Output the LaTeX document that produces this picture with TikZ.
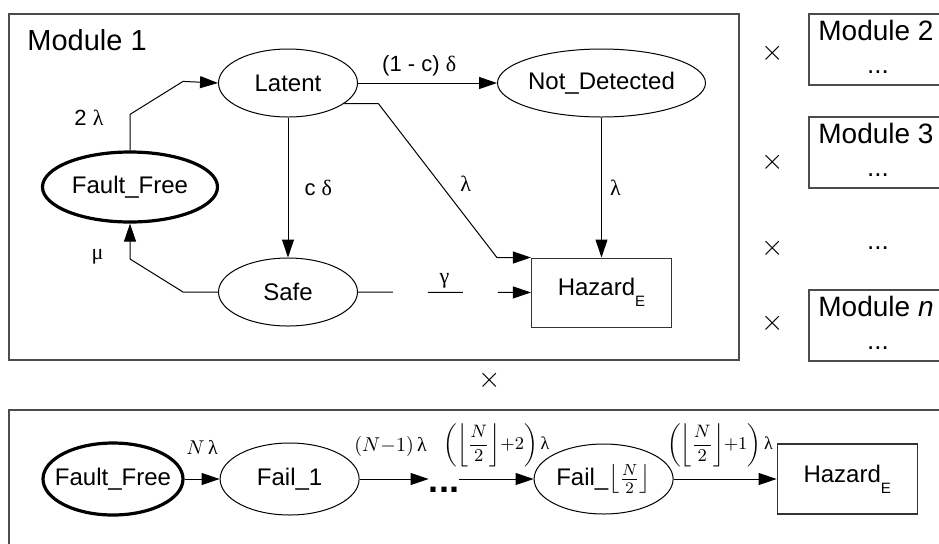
\documentclass[tikz,border=0pt]{standalone}
\usepackage{amsmath}
\usepackage{fontspec}
\setmainfont{Liberation Sans}
\newfontfamily\grk{Liberation Serif}
\usetikzlibrary{positioning,arrows.meta,shapes.geometric}
\newcommand{\gr}[1]{{\grk #1}}
\newcommand{\hzsub}{\raisebox{-5.5pt}{\fontsize{7.5}{8}\selectfont E}}
\newcommand{\halfrate}[1]{$\left(\left\lfloor\dfrac{N}{2}\right\rfloor\!{+}#1\right)$\,\gr{λ}}
\tikzset{
	state/.style={ellipse, draw=black, line width=0.5pt, minimum width=69.5pt, minimum height=34pt, inner sep=0pt, font=\fontsize{12}{14}\selectfont},
	startstate/.style={state, line width=1.6pt},
	box/.style={rectangle, draw=black!80, line width=0.6pt, minimum width=70pt, minimum height=34.5pt, inner sep=0pt, font=\fontsize{12}{14}\selectfont},
	modframe/.style={draw=black!70, line width=0.8pt},
	modname/.style={font=\fontsize{14.5}{17}\selectfont, inner sep=0pt},
	rate/.style={font=\fontsize{11}{13}\selectfont, inner sep=1pt},
	mrate/.style={font=\fontsize{10}{12}\selectfont, inner sep=1pt},
	prod/.style={font=\Large, inner sep=0pt}
}

\begin{document}
\begin{tikzpicture}[x=0.5pt, y=-0.5pt, edge/.style={-{Triangle[length=9pt,width=6pt]}, line width=0.5pt}]
\useasboundingbox (0,0) rectangle (939,543);
\clip (0,0) rectangle (939,543);

% Module 1
\draw[modframe] (9,14) rectangle (739,360);
\node[modname, anchor=base west] (M1) at (27,50) {Module 1};
\node[startstate, minimum width=87.5pt, minimum height=35pt] (FF) at (130,187) {Fault\_Free};
\node[state] (Latent) at (288,83) {Latent};
\node[state, below=70pt of Latent] (Safe) {Safe};
\node[state, minimum width=104pt, right=69.5pt of Latent] (ND) {Not\_Detected};
\node[box, below=70pt of ND] (Hz) {Hazard\hzsub};

\draw[edge] (FF.north) -- node[rate, pos=0.9, left=12pt] {2 \gr{λ}} ++(0,-36) -- ++(53,-33) -- (Latent.west);
\draw[edge] (Safe.west) -- ++(-35,0) -- ++(-53,-33) -- node[rate, pos=0.05, left=12pt] {\gr{μ}} (FF.south);
\draw[edge] (Latent) -- node[rate, right=7pt] {c \gr{δ}} (Safe);
\draw[edge] (Latent) -- node[rate, pos=0.44, above=2pt] {(1 - c) \gr{δ}} (ND);
\draw[edge] (Latent.-20) -- ++(34,0) -- node[rate, pos=0.52, right=9pt] {\gr{λ}} ([xshift=-17pt]Hz.north west) -- (Hz.north west);
\draw[edge] (ND) -- node[rate, right=3pt] {\gr{λ}} (Hz);
\draw[edge, dash pattern=on 17.5pt off 17.5pt] (Safe) -- node[rate, above=1pt] {\gr{γ}} (Hz);

% the other modules
\foreach \top/\num [count=\i] in {14/2, 117/3, 290/\textit{n}} {
	\draw[modframe] (809,\top) rectangle (960,\top+71);
	\node[modname, font=\fontsize{14}{16}\selectfont, anchor=base west] (M\i) at (818,\top+26) {Module \num};
	\node[modname, font=\fontsize{13}{15}\selectfont] (Md\i) at (878,\top+58) {...};
}
\node[modname, font=\fontsize{13}{15}\selectfont] (Mdots) at (878,248) {...};
\node[prod] (X1) at (773,53) {$\times$};
\node[prod] (X2) at (773,162) {$\times$};
\node[prod] (X3) at (773,248) {$\times$};
\node[prod] (X4) at (773,323) {$\times$};
\node[prod] (X5) at (490,380) {$\times$};

% equivalent chain
\draw[modframe] (9,410) rectangle (960,560);
\node[startstate, minimum width=70pt, minimum height=36pt] (FF2) at (113,479) {\makebox[40pt]{Fault\_Free}};
\node[state, minimum height=36pt, right=17.5pt of FF2] (Fail1) {Fail\_1};
\node[font=\fontsize{18}{20}\selectfont\bfseries, inner sep=0pt] (dots) at (444,490) {...};
\node[state, minimum height=35pt, right=87pt of Fail1] (FailN) {Fail\_$\left\lfloor\frac{N}{2}\right\rfloor$};
\node[box, minimum height=35pt, right=51.5pt of FailN] (Hz2) {Hazard\hzsub};

\draw[edge] (FF2) -- node[mrate, above=11pt] {$N$\,\gr{λ}} (Fail1);
\draw[edge] (Fail1) -- node[mrate, pos=0.45, above=10pt] {$\left(N{-}1\right)$\,\gr{λ}} (Fail1 -| dots.west);
\draw[edge] (FailN -| dots.east) -- node[mrate, font=\fontsize{9}{11}\selectfont, above=5pt] {\halfrate{2}} (FailN);
\draw[edge] (FailN) -- node[mrate, font=\fontsize{9}{11}\selectfont, pos=0.45, above=5pt] {\halfrate{1}} (Hz2);
\end{tikzpicture}
\end{document}
